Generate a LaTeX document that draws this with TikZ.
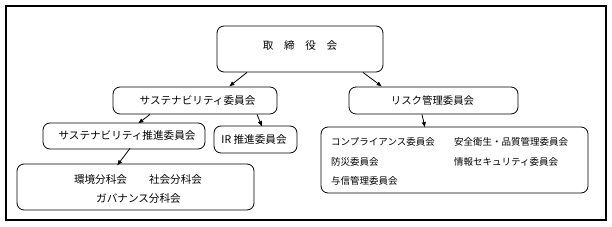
\documentclass[tikz,border=0pt]{standalone}
\usepackage{fontspec}
\setmainfont{Noto Sans CJK JP}
\usetikzlibrary{arrows.meta}
\begin{document}
\begin{tikzpicture}[x=1pt,y=-1pt,
  box/.style={draw,line width=0.8pt,rounded corners=7pt,inner sep=0pt},
  txt/.style={inner sep=0pt,font=\fontsize{10.6pt}{12pt}\selectfont},
  stxt/.style={inner sep=0pt,anchor=west,font=\fontsize{9.5pt}{11pt}\selectfont},
  arr/.style={line width=0.8pt,-{Latex[length=5.5pt,width=4.5pt]}}]
\useasboundingbox (0,0) rectangle (612,227);
\node[draw,line width=1.6pt,minimum width=600pt,minimum height=214pt,inner sep=0pt] (frame) at (306,113) {};
% boxes
\node[box,minimum width=166pt,minimum height=46pt] (top) at (300,49) {};
\node[txt] (toptxt) at (300,45) {取\hspace{1em}締\hspace{1em}役\hspace{1em}会};
\node[box,minimum width=164pt,minimum height=27pt] (sust) at (195,100.5) {};
\node[txt] (susttxt) at (197.5,100.5) {サステナビリティ委員会};
\node[box,minimum width=169pt,minimum height=27pt] (risk) at (433.5,100.5) {};
\node[txt,font=\fontsize{10.4pt}{12pt}\selectfont] (risktxt) at (432.5,100.5) {リスク管理委員会};
\node[box,minimum width=162pt,minimum height=26pt] (prom) at (124,136) {};
\node[txt] (promtxt) at (127,135.5) {サステナビリティ推進委員会};
\node[box,minimum width=83pt,minimum height=27pt] (ir) at (255.5,139.5) {};
\node[txt] (irtxt) at (254,139.5) {IR 推進委員会};
\node[box,minimum width=237pt,minimum height=46pt] (bunka) at (135.5,187) {};
\node[txt] (b1) at (100.5,179) {環境分科会};
\node[txt] (b2) at (175.5,179) {社会分科会};
\node[txt] (b3) at (138.5,198) {ガバナンス分科会};
\node[box,minimum width=267pt,minimum height=66pt] (rsub) at (454.5,160) {};
\node[stxt] (r1) at (331,142) {コンプライアンス委員会};
\node[stxt] (r2) at (454,142) {安全衛生・品質管理委員会};
\node[stxt] (r3) at (331,162) {防災委員会};
\node[stxt] (r4) at (454,162) {情報セキュリティ委員会};
\node[stxt] (r5) at (331,181) {与信管理委員会};
% arrows
\draw[arr] ([xshift=-53pt]top.south) -- ([xshift=34pt]sust.north);
\draw[arr] ([xshift=63pt]top.south) -- ([xshift=-51.5pt]risk.north);
\draw[arr] ([xshift=-45pt]sust.south) -- ([xshift=14pt,yshift=-1pt]prom.north);
\draw[arr] ([xshift=62pt]sust.south) -- ([xshift=6.5pt,yshift=-1pt]ir.north);
\draw[arr] ([xshift=6pt,yshift=1pt]prom.south) -- ([xshift=-18.5pt,yshift=-2pt]bunka.north);
\draw[arr] ([xshift=-11.5pt]risk.south) -- ([xshift=-29.5pt,yshift=-1pt]rsub.north);
\end{tikzpicture}
\end{document}
